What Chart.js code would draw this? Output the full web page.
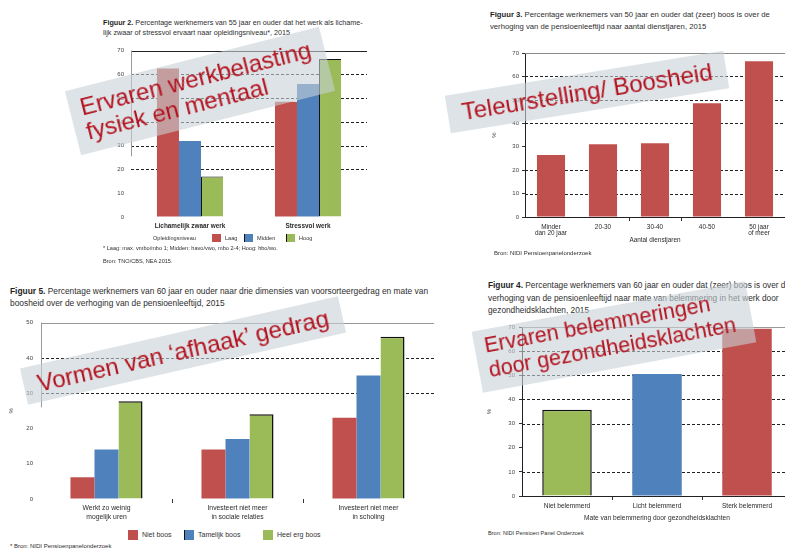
<!DOCTYPE html>
<html>
<head>
<meta charset="utf-8">
<script src="https://cdn.jsdelivr.net/npm/chart.js@4.4.1/dist/chart.umd.min.js"></script>
<style>
  html, body { margin: 0; padding: 0; width: 785px; height: 551px; overflow: hidden; background: #fff;
    font-family: "Liberation Sans", Arial, sans-serif; }
  #charts { position: absolute; left: 0; top: 0; width: 785px; height: 551px; }
  .t { position: absolute; color: #2e2e2e; white-space: nowrap; }
  .t b { color: #1e1e1e; }
  .leg { position: absolute; display: flex; align-items: center; white-space: nowrap; color: #333; }
  .sw { display: inline-block; margin-right: 4px; }
  .banner { position: absolute; box-sizing: border-box; background: rgba(198, 208, 213, 0.6);
    color: #b3121f; display: flex; flex-direction: column; white-space: nowrap; }
</style>
</head>
<body>
<div id="charts"></div>

<!-- figure titles -->
<div class="t" style="left:103px;top:18px;font-size:7.2px;line-height:10px;"><b>Figuur 2.</b> Percentage werknemers van 55 jaar en ouder dat het werk als lichame-<br>lijk zwaar of stressvol ervaart naar opleidingsniveau*, 2015</div>
<div class="t" style="left:490px;top:9px;font-size:7.7px;line-height:12px;"><b>Figuur 3.</b> Percentage werknemers van 50 jaar en ouder dat (zeer) boos is over de<br>verhoging van de pensioenleeftijd naar aantal dienstjaren, 2015</div>
<div class="t" style="left:10px;top:285px;font-size:8.4px;line-height:12px;"><b>Figuur 5.</b> Percentage werknemers van 60 jaar en ouder naar drie dimensies van voorsorteergedrag en mate van<br>boosheid over de verhoging van de pensioenleeftijd, 2015</div>
<div class="t" style="left:488px;top:279px;font-size:8.3px;line-height:12.5px;"><b>Figuur 4.</b> Percentage werknemers van 60 jaar en ouder dat (zeer) boos is over de<br>verhoging van de pensioenleeftijd naar mate van belemmering in het werk door<br>gezondheidsklachten, 2015</div>

<!-- legends -->
<div class="leg" style="left:153px;top:233px;height:10px;font-size:5.6px;">
  <span style="width:59px;">Opleidingsniveau</span>
  <span class="sw" style="width:9px;height:8px;background:#c0504d;"></span><span style="width:19px;">Laag</span>
  <span class="sw" style="width:9px;height:8px;background:#4f81bd;border-left:1px solid #111;box-sizing:border-box;"></span><span style="width:29px;">Midden</span>
  <span class="sw" style="width:9px;height:8px;background:#9bbb59;border-left:1px solid #111;box-sizing:border-box;"></span><span>Hoog</span>
</div>
<div class="leg" style="left:128px;top:529px;height:11px;font-size:7px;">
  <span class="sw" style="width:10px;height:10px;background:#c0504d;"></span><span style="width:42px;">Niet boos</span>
  <span class="sw" style="width:10px;height:10px;background:#4f81bd;border-left:1px solid #111;box-sizing:border-box;"></span><span style="width:65px;">Tamelijk boos</span>
  <span class="sw" style="width:10px;height:10px;background:#9bbb59;"></span><span>Heel erg boos</span>
</div>

<!-- notes and sources -->
<div class="t" style="left:103px;top:245px;font-size:5.6px;">* Laag: max. vmbo/mbo 1; Midden: havo/vwo, mbo 2-4; Hoog: hbo/wo.</div>
<div class="t" style="left:103px;top:258px;font-size:5.6px;">Bron: TNO/CBS, NEA 2015.</div>
<div class="t" style="left:494px;top:250px;font-size:6px;">Bron: NIDI Pensioenpanelonderzoek</div>
<div class="t" style="left:10px;top:543px;font-size:6px;">* Bron: NIDI Pensioenpanelonderzoek</div>
<div class="t" style="left:488px;top:530px;font-size:5.6px;">Bron: NIDI Pensioen Panel Onderzoek</div>

<!-- highlight banners -->
<div class="banner" style="left:68.5px;top:58px;width:262px;height:66px;transform:rotate(-14.2deg);font-size:24px;line-height:25px;justify-content:center;padding:0 0 3px 11px;">
  <span>Ervaren werkbelasting</span><span>fysiek en mentaal</span>
</div>
<div class="banner" style="left:446px;top:72.5px;width:282px;height:38px;transform:rotate(-9.2deg);font-size:24px;line-height:26px;justify-content:center;align-items:center;">
  <span>Teleurstelling/ Boosheid</span>
</div>
<div class="banner" style="left:19.5px;top:331.5px;width:326px;height:37px;transform:rotate(-12.8deg);font-size:24px;line-height:26px;justify-content:center;align-items:center;">
  <span>Vormen van ‘afhaak’ gedrag</span>
</div>
<div class="banner" style="left:475px;top:305.5px;width:278px;height:62px;transform:rotate(-10.5deg);font-size:21.5px;line-height:24.5px;justify-content:flex-start;padding:4px 0 0 10px;">
  <span>Ervaren belemmeringen</span><span>door gezondheidsklachten</span>
</div>

<script>
// Figuur 2: werk als lichamelijk zwaar / stressvol ervaren, naar opleidingsniveau
const werkCategories = ['Lichamelijk zwaar werk', 'Stressvol werk'];
const opleidingLaag = [62.5, 48.5];
const opleidingMidden = [32, 56];
const opleidingHoog = [17, 66.5];

// Figuur 3: (zeer) boos over verhoging pensioenleeftijd, naar aantal dienstjaren
const dienstjaren = [['Minder', 'dan 20 jaar'], '20-30', '30-40', '40-50', ['50 jaar', 'of meer']];
const boosDienstjaren = [26.5, 31, 31.5, 48.5, 66.5];

// Figuur 5: voorsorteergedrag naar mate van boosheid
const gedragCategories = [['Werkt zo weinig', 'mogelijk uren'], ['Investeert niet meer', 'in sociale relaties'], ['Investeert niet meer', 'in scholing']];
const nietBoos = [6.2, 14, 23];
const tamelijkBoos = [14, 17, 35];
const heelErgBoos = [27.7, 24, 46];

// Figuur 4: (zeer) boos naar belemmering door gezondheidsklachten
const belemmering = ['Niet belemmerd', 'Licht belemmerd', 'Sterk belemmerd'];
const boosBelemmering = [35.7, 50.5, 69.3];

const FONT = '"Liberation Sans", Arial, sans-serif';
const RED = '#c0504d', BLUE = '#4f81bd', GREEN = '#9bbb59';
const NONE = 'rgba(0,0,0,0)';

// Horizontal guide lines (dashed and solid) plus an optional partial value-axis line
const guidePlugin = {
  id: 'guides',
  beforeDatasetsDraw(chart, args, opts) {
    const { ctx, chartArea: a, scales: { y } } = chart;
    ctx.save();
    ctx.lineWidth = 1;
    ctx.strokeStyle = opts.dashColor || '#222';
    ctx.setLineDash([3, 2]);
    (opts.dashed || []).forEach(v => {
      const py = Math.round(y.getPixelForValue(v)) + 0.5;
      ctx.beginPath(); ctx.moveTo(a.left, py); ctx.lineTo(a.right, py); ctx.stroke();
    });
    ctx.setLineDash([]);
    ctx.strokeStyle = opts.solidColor || '#888';
    (opts.solid || []).forEach(v => {
      const py = Math.round(y.getPixelForValue(v)) + 0.5;
      ctx.beginPath(); ctx.moveTo(a.left, py); ctx.lineTo(a.right, py); ctx.stroke();
    });
    if (opts.axisTo != null) {
      const px = Math.round(a.left) + 0.5;
      ctx.strokeStyle = opts.axisColor || '#999';
      ctx.beginPath();
      ctx.moveTo(px, y.getPixelForValue(y.max));
      ctx.lineTo(px, y.getPixelForValue(opts.axisTo));
      ctx.stroke();
    }
    ctx.restore();
  }
};

function makeBarChart(o) {
  const canvas = document.createElement('canvas');
  canvas.width = o.w; canvas.height = o.h;
  canvas.style.cssText = `position:absolute;left:${o.x}px;top:${o.y}px;width:${o.w}px;height:${o.h}px;`;
  document.getElementById('charts').appendChild(canvas);
  return new Chart(canvas, {
    type: 'bar',
    data: { labels: o.labels, datasets: o.datasets },
    options: {
      responsive: false,
      animation: false,
      devicePixelRatio: 1,
      layout: { padding: { left: 0, top: o.padT, right: o.padR, bottom: 0 } },
      datasets: { bar: { barPercentage: 1, categoryPercentage: o.catPct } },
      plugins: { legend: { display: false }, tooltip: { enabled: false }, guides: o.guides },
      scales: {
        x: {
          afterFit: s => { s.height = o.xH; },
          grid: {
            display: true, offset: true, drawOnChartArea: false, drawTicks: true,
            tickLength: o.xTickLen,
            color: c => (o.xTickIdx.includes(c.index) ? '#333' : NONE)
          },
          border: { display: o.xAxisLine, color: '#222' },
          ticks: {
            color: '#2a2a2a', maxRotation: 0, autoSkip: false, padding: o.xPad,
            font: { family: FONT, size: o.xFont, lineHeight: o.xLine, weight: o.xWeight || 'normal' }
          },
          title: o.xTitle
            ? { display: true, text: o.xTitle, color: '#2a2a2a', padding: 0, font: { family: FONT, size: o.xFont, lineHeight: 1.2 } }
            : { display: false }
        },
        y: {
          min: 0, max: o.max,
          afterFit: s => { s.width = o.yW; },
          grid: { drawOnChartArea: false, drawTicks: o.yTicks, tickLength: 3, color: '#333' },
          border: { display: o.yAxisLine, color: '#222' },
          ticks: { stepSize: 10, color: '#444', padding: o.yPad, font: { family: FONT, size: o.yFont } },
          title: o.yTitle
            ? { display: true, text: '%', color: '#444', padding: { top: o.yTitlePad, bottom: 0 }, font: { family: FONT, size: 6 } }
            : { display: false }
        }
      }
    },
    plugins: [guidePlugin]
  });
}

// Figuur 2
makeBarChart({
  x: 91, y: 40, w: 280, h: 197, padT: 8, padR: 4, yW: 40, xH: 20, max: 70, catPct: 0.56,
  labels: werkCategories,
  datasets: [
    { label: 'Laag', data: opleidingLaag, backgroundColor: RED },
    { label: 'Midden', data: opleidingMidden, backgroundColor: BLUE },
    { label: 'Hoog', data: opleidingHoog, backgroundColor: GREEN, borderColor: '#111', borderWidth: { top: 1, left: 1 } }
  ],
  xTickIdx: [], xTickLen: 0, xAxisLine: false, xPad: 6, xFont: 6.4, xLine: 1.1, xWeight: 'bold',
  yTicks: false, yAxisLine: false, yPad: 7, yFont: 6,
  guides: { dashed: [20, 30, 40, 50, 60], solid: [70], solidColor: '#222', axisTo: 25.5, axisColor: '#999' }
});

// Figuur 3
makeBarChart({
  x: 480, y: 45, w: 310, h: 199, padT: 8, padR: 5, yW: 45, xH: 27, max: 70, catPct: 0.54,
  labels: dienstjaren,
  datasets: [
    { label: '(Zeer) boos', data: boosDienstjaren, backgroundColor: RED }
  ],
  xTickIdx: [2, 3], xTickLen: 4, xAxisLine: true, xPad: 3, xFont: 6.4, xLine: 1.0, xTitle: 'Aantal dienstjaren',
  yTicks: true, yAxisLine: true, yPad: 3, yFont: 6, yTitle: true, yTitlePad: 11,
  guides: { dashed: [10, 20, 40, 50, 60], solid: [70], solidColor: '#8a8a8a' }
});

// Figuur 5
makeBarChart({
  x: 0, y: 311, w: 440, h: 212, padT: 8, padR: 6, yW: 41, xH: 24, max: 50, catPct: 0.55,
  labels: gedragCategories,
  datasets: [
    { label: 'Niet boos', data: nietBoos, backgroundColor: RED },
    { label: 'Tamelijk boos', data: tamelijkBoos, backgroundColor: BLUE },
    { label: 'Heel erg boos', data: heelErgBoos, backgroundColor: GREEN, borderColor: '#111', borderWidth: { top: 1.5, right: 1.5 } }
  ],
  xTickIdx: [1, 2], xTickLen: 4, xAxisLine: false, xPad: 1, xFont: 6.8, xLine: 1.3,
  yTicks: false, yAxisLine: false, yPad: 8, yFont: 6, yTitle: true, yTitlePad: 8,
  guides: { dashed: [30, 40], solid: [50], solidColor: '#999', axisTo: 26, axisColor: '#999' }
});

// Figuur 4
makeBarChart({
  x: 475, y: 319, w: 320, h: 203, padT: 8, padR: 3, yW: 47, xH: 26, max: 70, catPct: 0.55,
  labels: belemmering,
  datasets: [
    { label: '(Zeer) boos', data: boosBelemmering, backgroundColor: [GREEN, BLUE, RED],
      borderColor: ['#111', NONE, NONE], borderWidth: [1.5, 0, 0] }
  ],
  xTickIdx: [1, 2], xTickLen: 4, xAxisLine: true, xPad: 3, xFont: 6.6, xLine: 1.1,
  xTitle: 'Mate van belemmering door gezondheidsklachten',
  yTicks: true, yAxisLine: true, yPad: 4, yFont: 6, yTitle: true, yTitlePad: 11,
  guides: { dashed: [10, 30, 40, 50, 60], solid: [70], solidColor: '#999' }
});
</script>
</body>
</html>
